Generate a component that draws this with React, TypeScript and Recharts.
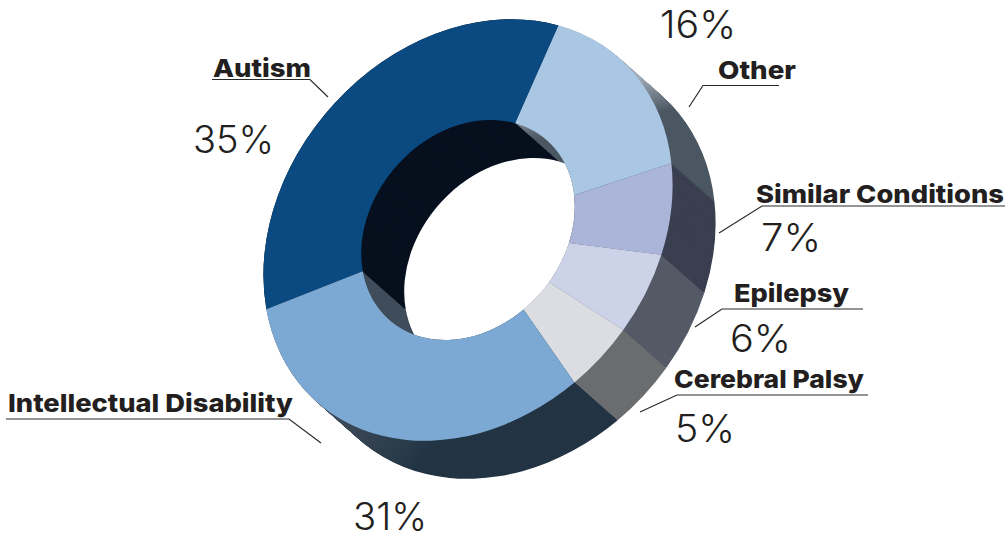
import React from 'react';
import { PieChart, Pie, Cell } from 'recharts';

const categories = ['Autism', 'Other', 'Similar Conditions', 'Epilepsy', 'Cerebral Palsy', 'Intellectual Disability'];
const shares = [35, 16, 7, 6, 5, 31];

const topColors = ['#0a4a80', '#a9c6e2', '#abb5da', '#ccd3e8', '#dcdde2', '#7ca9d3'];
const wallColors = ['#07101e', 'url(#wallOther)', '#3a3f50', '#555a66', '#6b6d70', 'url(#wallId)'];

// label layout, same order as categories: name x/right/baseline, percent x/right/baseline
const nameBoxes = [
  [213, 311, 77],
  [718, 796, 79],
  [756, 1004, 203],
  [734, 849, 302],
  [674, 864, 388],
  [8, 293, 412],
];
const shareBoxes = [
  [193, 274, 153],
  [660, 736, 38],
  [761, 821, 251],
  [730, 791, 352],
  [675, 735, 442],
  [353, 427, 530],
];
// leader lines: underline start, underline end, tip
const leaders = [
  '212,79.5 310,79.5 328,97',
  '779,85.5 703,85.5 689,107',
  '1005,206 762,206 719,233',
  '863,309 722,309 695,327',
  '868,395 677,395 640,412',
  '6,419 289,419 321,443',
];

const chartData = categories.map((name, i) => ({ name, value: shares[i] }));

// the flat pie is squashed and turned to look like a tilted ring
const CX = 468;
const CY = 230;
const SIZE = 600;
const R = 200;
const TILT = 49;
const SX = 229 / R;
const SY = 184 / R;
const rad = (TILT * Math.PI) / 180;

// screen offset -> offset inside the transformed chart
const toPie = (dx: number, dy: number) => ({
  x: (dx * Math.cos(rad) - dy * Math.sin(rad)) / SX,
  y: (dx * Math.sin(rad) + dy * Math.cos(rad)) / SY,
});
const pagePoint = (x: number, y: number) => {
  const p = toPie(x - CX, y - CY);
  return { x: SIZE / 2 + p.x, y: SIZE / 2 + p.y };
};

const DEPTH_X = 43;
const DEPTH_Y = 38;
const layers = Array.from({ length: DEPTH_X + 1 }, (_, i) => DEPTH_X - i);

const Ring = (key: string, dx: number, dy: number, colors: string[]) => {
  const p = toPie(dx, dy);
  return (
    <Pie
      key={key}
      data={chartData}
      dataKey="value"
      cx={SIZE / 2 + p.x}
      cy={SIZE / 2 + p.y}
      innerRadius={R * 0.522}
      outerRadius={R}
      startAngle={-213}
      endAngle={-573}
      stroke="none"
      legendType="none"
      isAnimationActive={false}
    >
      {colors.map((c, i) => (
        <Cell key={i} fill={c} />
      ))}
    </Pie>
  );
};

const Grad = ({ id, from, to, c1, c2 }: any) => {
  const a = pagePoint(from[0], from[1]);
  const b = pagePoint(to[0], to[1]);
  return (
    <linearGradient id={id} gradientUnits="userSpaceOnUse" x1={a.x} y1={a.y} x2={b.x} y2={b.y}>
      <stop offset="0" stopColor={c1} />
      <stop offset="1" stopColor={c2} />
    </linearGradient>
  );
};

export default function App() {
  return (
    <div style={{ position: 'absolute', left: 0, top: 0, width: 1007, height: 534, overflow: 'hidden', background: '#fff' }}>
      <div
        style={{
          position: 'absolute',
          left: CX - SIZE / 2,
          top: CY - SIZE / 2,
          width: SIZE,
          height: SIZE,
          transformOrigin: 'center',
          transform: `rotate(${-TILT}deg) scale(${SX}, ${SY})`,
        }}
      >
        <PieChart width={SIZE} height={SIZE} margin={{ top: 0, right: 0, bottom: 0, left: 0 }}>
          <defs>
            <Grad id="wallOther" from={[650, 75]} to={[650, 115]} c1="#a0abb6" c2="#4a5661" />
            <Grad id="wallId" from={[340, 410]} to={[420, 465]} c1="#3f4c5a" c2="#223444" />
          </defs>
          {layers.map((i) => Ring(`wall${i}`, i, (i * DEPTH_Y) / DEPTH_X, wallColors))}
          {Ring('top', 0, 0, topColors)}
        </PieChart>
      </div>
      <svg width={1007} height={534} style={{ position: 'absolute', left: 0, top: 0 }}>
        {leaders.map((pts, i) => (
          <polyline key={i} points={pts} fill="none" stroke="#2b2a2b" strokeWidth={1.2} />
        ))}
        {categories.map((name, i) => (
          <text
            key={name}
            x={nameBoxes[i][0]}
            y={nameBoxes[i][2]}
            textLength={nameBoxes[i][1] - nameBoxes[i][0]}
            lengthAdjust="spacingAndGlyphs"
            fontFamily="Inter, 'Open Sans', sans-serif"
            fontWeight={800}
            fontSize={25}
            fill="#231f20"
          >
            {name}
          </text>
        ))}
        {shares.map((v, i) => (
          <text
            key={i}
            x={shareBoxes[i][0]}
            y={shareBoxes[i][2]}
            textLength={shareBoxes[i][1] - shareBoxes[i][0]}
            lengthAdjust="spacingAndGlyphs"
            fontFamily="Inter, 'Open Sans', sans-serif"
            fontWeight={300}
            fontSize={38}
            fill="#231f20"
          >
            {v}%
          </text>
        ))}
      </svg>
    </div>
  );
}
